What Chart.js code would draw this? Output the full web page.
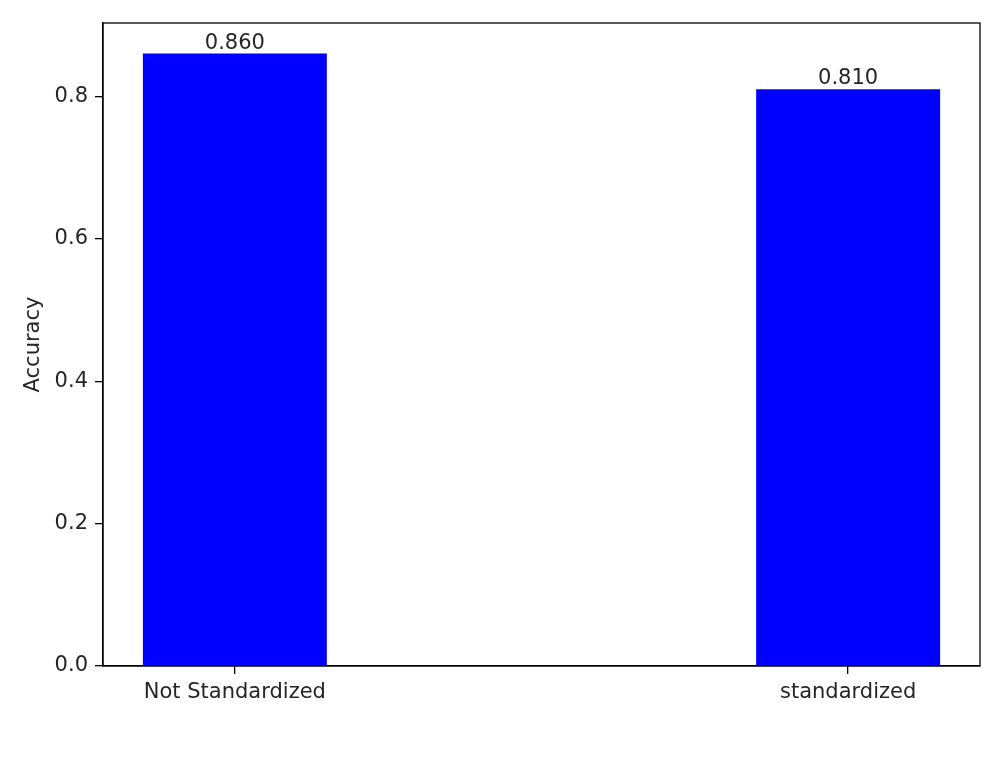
<!DOCTYPE html>
<html>
<head>
<meta charset="utf-8">
<script src="https://cdn.jsdelivr.net/npm/chart.js@4"></script>
<style>
  html, body { margin: 0; padding: 0; background: #fff; }
  canvas { display: block; }
</style>
</head>
<body>
<canvas id="barChart" width="1003" height="757"></canvas>
<script>
const categories = ['Not Standardized', 'standardized'];
const positions = [0, 1];
const accuracy = [0.860, 0.810];
const yTicks = [0.0, 0.2, 0.4, 0.6, 0.8];

document.addEventListener("DOMContentLoaded", () => {

    const fontFamily = "'DejaVu Sans', sans-serif";
    const fontSize = 21;
    const textColor = '#262626';

    // box around the plot area, like matplotlib's spines
    const frame = {
        id: 'frame',
        afterDraw(chart) {
            const { ctx, chartArea } = chart;
            ctx.save();
            ctx.strokeStyle = '#000';
            ctx.lineWidth = 1.3;
            ctx.strokeRect(chartArea.left, chartArea.top, chartArea.right - chartArea.left, chartArea.bottom - chartArea.top);
            ctx.restore();
        }
    };

    // value text on top of each bar
    const barLabels = {
        id: 'barLabels',
        afterDatasetsDraw(chart) {
            const { ctx } = chart;
            const meta = chart.getDatasetMeta(0);
            ctx.save();
            ctx.font = fontSize + 'px ' + fontFamily;
            ctx.fillStyle = textColor;
            ctx.textAlign = 'center';
            ctx.textBaseline = 'bottom';
            meta.data.forEach((bar, i) => {
                ctx.fillText(accuracy[i].toFixed(3), bar.x, bar.y);
            });
            ctx.restore();
        }
    };

    new Chart(document.getElementById('barChart').getContext('2d'), {
        type: 'bar',
        data: {
            datasets: [{
                data: positions.map((p, i) => ({ x: p, y: accuracy[i] })),
                backgroundColor: '#0000ff',
                borderWidth: 0,
                barPercentage: 0.3,
                categoryPercentage: 1
            }]
        },
        options: {
            responsive: false,
            animation: false,
            layout: { padding: { top: 23, right: 23, left: 0, bottom: 0 } },
            plugins: {
                legend: { display: false },
                tooltip: { enabled: false }
            },
            scales: {
                x: {
                    type: 'linear',
                    min: -0.215,
                    max: 1.215,
                    offset: false,
                    afterBuildTicks: scale => { scale.ticks = positions.map(v => ({ value: v })); },
                    afterFit: scale => { scale.height = 91; },
                    ticks: {
                        color: textColor,
                        font: { family: fontFamily, size: fontSize },
                        padding: 6,
                        callback: v => categories[positions.indexOf(v)]
                    },
                    grid: {
                        offset: false,
                        drawOnChartArea: false,
                        drawTicks: true,
                        tickLength: 8,
                        color: '#000',
                        lineWidth: 1.3
                    },
                    border: { display: true, color: '#000', width: 1.3 }
                },
                y: {
                    min: 0,
                    max: 0.903,
                    afterBuildTicks: scale => { scale.ticks = yTicks.map(v => ({ value: v })); },
                    afterFit: scale => { scale.width = 103; },
                    ticks: {
                        color: textColor,
                        font: { family: fontFamily, size: fontSize },
                        padding: 7,
                        callback: v => Number(v).toFixed(1)
                    },
                    grid: {
                        drawOnChartArea: false,
                        drawTicks: true,
                        tickLength: 8,
                        color: '#000',
                        lineWidth: 1.3
                    },
                    border: { display: true, color: '#000', width: 1.3 },
                    title: {
                        display: true,
                        text: 'Accuracy',
                        color: textColor,
                        font: { family: fontFamily, size: fontSize },
                        padding: { top: 21, bottom: 0 }
                    }
                }
            }
        },
        plugins: [frame, barLabels]
    });
});
</script>
</body>
</html>
